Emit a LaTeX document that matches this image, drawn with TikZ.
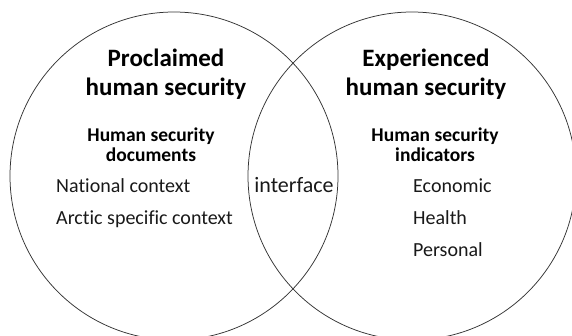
\documentclass[tikz,border=0pt]{standalone}
\usepackage{fontspec}
\setmainfont{Carlito}[Ligatures=NoCommon]
\usepackage{tikz}

\begin{document}
\begin{tikzpicture}[x=1pt,y=-1pt,
  ring/.style={draw=black!80, line width=0.75pt},
  head/.style={font=\fontsize{25}{29}\selectfont\bfseries, anchor=base, inner sep=0pt},
  sub/.style={font=\fontsize{19.5}{21}\selectfont\bfseries, anchor=base, inner sep=0pt},
  item/.style={font=\fontsize{20}{24}\selectfont, text=black!90, anchor=base west, inner sep=0pt}]
  \useasboundingbox (0,0) rectangle (572,335);
  \clip (0,0) rectangle (572,335);
  \coordinate (lc) at (174,176);
  \coordinate (rc) at (412,176);
  \draw[ring] (lc) circle[radius=164];
  \draw[ring] (rc) circle[radius=164];
  % proclaimed side
  \node[head] (proc) at (166,66) {Proclaimed};
  \node[head] (lhum) at (166,95) {human security};
  \node[sub] (ldoc) at (151,141) {Human security};
  \node[sub] (ldocs) at (151,161) {documents};
  \node[item] (nat) at (56,192) {National context};
  \node[item] (arc) at (56,224) {Arctic specific context};
  % overlap
  \node[item, anchor=base, font=\fontsize{22}{24}\selectfont] (inter) at (294,192) {interface};
  % experienced side
  \node[head] (expe) at (426,66) {Experienced};
  \node[head] (rhum) at (426,95) {human security};
  \node[sub] (rind) at (435,141) {Human security};
  \node[sub] (rinds) at (435,161) {indicators};
  \node[item] (eco) at (413,192) {Economic};
  \node[item] (hea) at (413,224) {Health};
  \node[item] (per) at (413,256) {Personal};
\end{tikzpicture}
\end{document}
